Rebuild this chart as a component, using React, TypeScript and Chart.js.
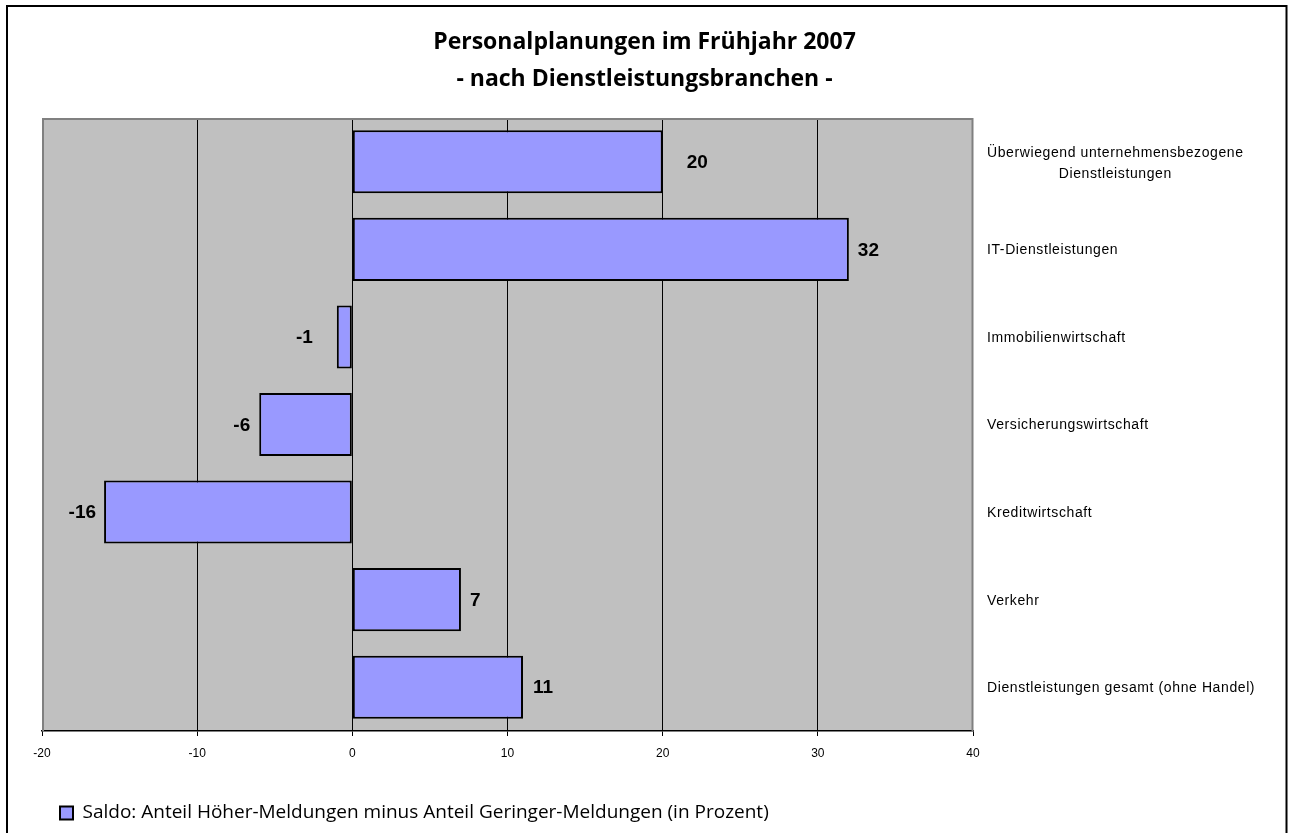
import { useEffect, useRef } from 'react';
import { Chart, registerables } from 'chart.js';

Chart.register(...registerables);

const titleLines = ['Personalplanungen im Frühjahr 2007', '- nach Dienstleistungsbranchen -'];
const categories: (string | string[])[] = [
  ['Überwiegend unternehmensbezogene', 'Dienstleistungen'],
  'IT-Dienstleistungen',
  'Immobilienwirtschaft',
  'Versicherungswirtschaft',
  'Kreditwirtschaft',
  'Verkehr',
  'Dienstleistungen gesamt (ohne Handel)',
];
const saldo = [20, 32, -1, -6, -16, 7, 11];
const xTicks = [-20, -10, 0, 10, 20, 30, 40];
const seriesLabel = 'Saldo: Anteil Höher-Meldungen minus Anteil Geringer-Meldungen (in Prozent)';

const W = 1289;
const H = 833;
const SANS = '"Liberation Sans", Arial, sans-serif';
const TITLE_FONT = '"Open Sans", sans-serif';

const decor = {
  id: 'decor',
  beforeDraw(chart: any) {
    const { ctx, chartArea: a } = chart;
    ctx.save();
    ctx.fillStyle = '#ffffff';
    ctx.fillRect(0, 0, chart.width, chart.height);
    ctx.fillStyle = '#C0C0C0';
    ctx.fillRect(a.left, a.top, a.right - a.left, a.bottom - a.top);
    ctx.restore();
  },
  beforeDatasetsDraw(chart: any) {
    const { ctx, chartArea: a } = chart;
    ctx.save();
    ctx.strokeStyle = '#808080';
    ctx.lineWidth = 2;
    ctx.beginPath();
    ctx.moveTo(a.left + 1, a.bottom);
    ctx.lineTo(a.left + 1, a.top + 1);
    ctx.lineTo(a.right - 0.5, a.top + 1);
    ctx.lineTo(a.right - 0.5, a.bottom);
    ctx.stroke();
    ctx.restore();
  },
  afterDatasetsDraw(chart: any, _args: any, opts: any) {
    const { ctx } = chart;
    const meta = chart.getDatasetMeta(0);
    const gaps: number[] = opts.gaps || [];
    ctx.save();
    ctx.font = `bold 19px ${SANS}`;
    ctx.fillStyle = '#000';
    ctx.textBaseline = 'middle';
    meta.data.forEach((bar: any, i: number) => {
      const v = saldo[i];
      const gap = gaps[i] ?? 9;
      if (v >= 0) {
        ctx.textAlign = 'left';
        ctx.fillText(String(v), bar.x + gap, bar.y + 1);
      } else {
        ctx.textAlign = 'right';
        ctx.fillText(String(v), bar.x - gap, bar.y + 1);
      }
    });
    ctx.restore();
  },
  afterDraw(chart: any) {
    const { ctx, chartArea: a } = chart;
    const ys = chart.scales.y;
    ctx.save();
    ctx.font = `14px ${SANS}`;
    (ctx as any).letterSpacing = '0.6px';
    ctx.fillStyle = '#000';
    ctx.textBaseline = 'middle';
    const left = a.right + 14;
    categories.forEach((lab, i) => {
      const y = ys.getPixelForValue(i);
      if (Array.isArray(lab)) {
        const maxW = Math.max(...lab.map((l) => ctx.measureText(l).width));
        ctx.textAlign = 'center';
        const lh = 21;
        lab.forEach((l, j) => {
          ctx.fillText(l, left + maxW / 2, y + 1.5 + (j - (lab.length - 1) / 2) * lh);
        });
      } else {
        ctx.textAlign = 'left';
        ctx.fillText(lab, left, y + 1);
      }
    });
    ctx.restore();
    // outer chart border
    ctx.save();
    ctx.strokeStyle = '#000';
    ctx.lineWidth = 2;
    ctx.strokeRect(7, 6, 1279.5, H + 20);
    ctx.restore();
  },
};

export default function App() {
  const ref = useRef<HTMLCanvasElement | null>(null);
  useEffect(() => {
    if (!ref.current) return;
    const chart = new Chart(ref.current, {
      type: 'bar',
      data: {
        labels: categories as any,
        datasets: [
          {
            label: seriesLabel,
            data: saldo,
            backgroundColor: '#9999FF',
            borderColor: '#000000',
            borderWidth: 2,
            borderSkipped: false,
            barPercentage: 0.72,
            categoryPercentage: 1,
            yAxisID: 'y',
          },
        ],
      },
      options: {
        indexAxis: 'y',
        responsive: false,
        animation: false,
        events: [],
        layout: { padding: { top: 8, left: 8, right: 8, bottom: 0.5 } },
        scales: {
          x: {
            type: 'linear',
            min: -20,
            max: 40,
            afterBuildTicks: (s: any) => {
              s.ticks = xTicks.map((v) => ({ value: v }));
            },
            afterFit: (s: any) => {
              s.height = 54.5;
            },
            grid: {
              color: (c: any) =>
                c.tick && (c.tick.value === -20 || c.tick.value === 40) ? 'rgba(0,0,0,0)' : '#000000',
              tickColor: '#000000',
              tickLength: 5,
              lineWidth: 1,
            },
            border: { display: true, color: '#000000', width: 1.5 },
            ticks: {
              color: '#000000',
              padding: 10,
              font: { family: SANS, size: 12 },
              maxRotation: 0,
            },
          },
          y: {
            type: 'category',
            position: 'right',
            grid: { display: false },
            border: { display: false },
            ticks: { display: false },
            afterFit: (s: any) => {
              s.width = 1281 - 973;
            },
          },
          yLeft: {
            type: 'category',
            position: 'left',
            grid: { display: false },
            border: { display: false },
            ticks: { display: false },
            afterFit: (s: any) => {
              s.width = 34;
            },
          },
        } as any,
        plugins: {
          title: {
            display: true,
            text: titleLines,
            color: '#000000',
            font: { family: TITLE_FONT, size: 23, weight: '700', lineHeight: '37px' } as any,
            padding: { top: 16, bottom: 20 },
          },
          legend: {
            display: true,
            position: 'bottom',
            align: 'start',
            fullSize: false,
            labels: {
              boxWidth: 13,
              boxHeight: 13,
              padding: 18,
              color: '#000000',
              font: { family: TITLE_FONT, size: 19 },
            },
          },
          tooltip: { enabled: false },
          decor: { gaps: [24, 9, 24, 9, 8, 9, 10] },
        } as any,
      },
      plugins: [decor],
    });
    return () => chart.destroy();
  }, []);
  return (
    <div style={{ position: 'fixed', left: 0, top: 0, width: W, height: H, background: '#fff' }}>
      <canvas ref={ref} width={W} height={H} style={{ display: 'block', width: W, height: H }} />
    </div>
  );
}
